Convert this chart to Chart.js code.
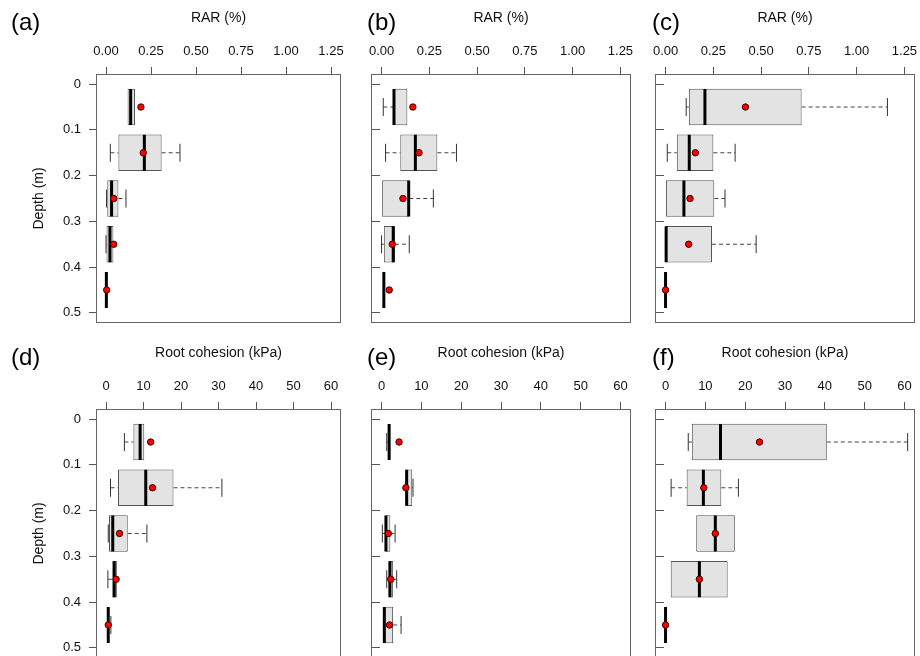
<!DOCTYPE html>
<html>
<head>
<meta charset="utf-8">
<script src="https://cdn.jsdelivr.net/npm/chart.js@4.4.1/dist/chart.umd.min.js"></script>
<style>
html, body { margin: 0; padding: 0; background: #fff; width: 920px; height: 656px; overflow: hidden; position: relative; }
canvas { position: absolute; }
</style>
</head>
<body>
<canvas id="pa" width="345" height="330" style="left:0px;top:0px"></canvas>
<canvas id="pb" width="290" height="330" style="left:345px;top:0px"></canvas>
<canvas id="pc" width="285" height="330" style="left:635px;top:0px"></canvas>
<canvas id="pd" width="345" height="330" style="left:0px;top:335px"></canvas>
<canvas id="pe" width="290" height="330" style="left:345px;top:335px"></canvas>
<canvas id="pf" width="285" height="330" style="left:635px;top:335px"></canvas>
<script>
// depth classes (box centres) and tick labels
const depths = [0.05, 0.15, 0.25, 0.35, 0.45];
const depthTicks = [0, 0.1, 0.2, 0.3, 0.4, 0.5];
const rarTicks = [0, 0.25, 0.5, 0.75, 1, 1.25];
const cohTicks = [0, 10, 20, 30, 40, 50, 60];

// (a) RAR
const aMin  = [0.120, 0.024, 0.003, 0.000, 0.002];
const aQ1   = [0.120, 0.069, 0.007, 0.003, 0.002];
const aMed  = [0.137, 0.213, 0.031, 0.022, 0.002];
const aQ3   = [0.161, 0.309, 0.069, 0.041, 0.002];
const aMax  = [0.161, 0.411, 0.111, 0.041, 0.002];
const aMean = [0.194, 0.207, 0.043, 0.043, 0.004];

// (b) RAR
const bMin  = [0.009, 0.021, 0.003, 0.000, 0.012];
const bQ1   = [0.061, 0.098, 0.003, 0.012, 0.012];
const bMed  = [0.065, 0.177, 0.142, 0.061, 0.012];
const bQ3   = [0.135, 0.292, 0.145, 0.070, 0.012];
const bMax  = [0.135, 0.392, 0.271, 0.145, 0.012];
const bMean = [0.164, 0.196, 0.112, 0.056, 0.040];

// (c) RAR
const cMin  = [0.108, 0.009, 0.000, 0.003, 0.000];
const cQ1   = [0.122, 0.059, 0.000, 0.003, 0.000];
const cMed  = [0.206, 0.124, 0.096, 0.003, 0.000];
const cQ3   = [0.712, 0.250, 0.255, 0.243, 0.000];
const cMax  = [1.161, 0.364, 0.311, 0.474, 0.000];
const cMean = [0.418, 0.156, 0.128, 0.121, 0.000];

// (d) root cohesion
const dMin  = [4.9, 1.2, 0.6, 0.5, 0.6];
const dQ1   = [7.3, 3.2, 0.8, 1.7, 0.55];
const dMed  = [9.1, 10.6, 1.8, 2.2, 0.6];
const dQ3   = [10.2, 18.0, 5.8, 2.9, 0.65];
const dMax  = [10.2, 30.9, 10.9, 2.9, 1.3];
const dMean = [11.9, 12.4, 3.6, 2.7, 0.6];

// (e) root cohesion
const eMin  = [1.3, 6.1, 0.2, 1.3, 0.6];
const eQ1   = [1.8, 6.1, 1.0, 1.8, 0.6];
const eMed  = [1.9, 6.3, 1.1, 2.1, 0.7];
const eQ3   = [2.2, 7.7, 2.2, 2.9, 2.9];
const eMax  = [2.2, 7.9, 3.4, 3.8, 4.9];
const eMean = [4.4, 6.1, 1.7, 2.3, 2.0];

// (f) root cohesion
const fMin  = [5.7, 1.4, 7.7, 1.3, 0];
const fQ1   = [6.6, 5.3, 7.7, 1.3, 0];
const fMed  = [13.8, 9.5, 12.5, 8.5, 0];
const fQ3   = [40.5, 14.0, 17.4, 15.6, 0];
const fMax  = [60.8, 18.3, 17.4, 15.6, 0];
const fMean = [23.6, 9.6, 12.5, 8.5, 0];

const FONT = '"Liberation Sans", Arial, Helvetica, sans-serif';

//panel letter like (a), (b)...
const panelLetter = {
  id: 'panelLetter',
  afterDraw(chart, args, o) {
    const ctx = chart.ctx;
    ctx.save();
    ctx.font = '24px ' + FONT;
    ctx.fillStyle = '#000';
    ctx.textBaseline = 'middle';
    ctx.fillText(o.text, o.x, o.y);
    ctx.restore();
  }
};

//box round the plot region
const frame = {
  id: 'frame',
  afterDraw(chart) {
    const a = chart.chartArea;
    const ctx = chart.ctx;
    ctx.save();
    ctx.strokeStyle = '#666';
    ctx.lineWidth = 1;
    ctx.strokeRect(Math.round(a.left) - 0.5, Math.round(a.top) - 0.5,
      Math.round(a.right - a.left) + 1, Math.round(a.bottom - a.top) + 1);
    ctx.restore();
  }
};

// no automatic label padding, the layout is fixed by hand
function noPad(s) {
  s.paddingLeft = 0;
  s.paddingRight = 0;
  s.paddingTop = 0;
  s.paddingBottom = 0;
}

function makePanel(id, p) {
  let whiskers = [];
  let caps = [];
  depths.forEach((d, i) => {
    if (p.min[i] < p.q1[i]) {
      whiskers.push({x: p.min[i], y: d}, {x: p.q1[i], y: d}, {x: null, y: null});
      caps.push({x: p.min[i], y: d});
    }
    if (p.max[i] > p.q3[i]) {
      whiskers.push({x: p.q3[i], y: d}, {x: p.max[i], y: d}, {x: null, y: null});
      caps.push({x: p.max[i], y: d});
    }
  });

  const data = {
    datasets: [
      {
        type: 'scatter',
        data: depths.map((d, i) => ({x: p.mean[i], y: d})),
        pointRadius: 3.2,
        pointBackgroundColor: '#ff0000',
        pointBorderColor: '#3a0000',
        pointBorderWidth: 1,
        order: 0
      },
      {
        type: 'scatter',
        data: depths.map((d, i) => ({x: p.med[i], y: d})),
        pointStyle: 'line',
        rotation: 90,
        pointRadius: 18,
        pointBorderColor: '#000',
        pointBorderWidth: 3,
        order: 1
      },
      {
        type: 'scatter',
        data: caps,
        pointStyle: 'line',
        rotation: 90,
        pointRadius: 9,
        pointBorderColor: '#333',
        pointBorderWidth: 1,
        order: 2
      },
      {
        type: 'bar',
        indexAxis: 'y',
        data: depths.map((d, i) => ({x: [p.q1[i], p.q3[i]], y: d})),
        backgroundColor: '#e3e3e3',
        borderColor: '#555',
        borderWidth: 1,
        borderSkipped: false,
        barPercentage: 0.8,
        categoryPercentage: 1,
        order: 3
      },
      {
        type: 'line',
        data: whiskers,
        borderColor: '#444',
        borderWidth: 1,
        borderDash: [4, 3],
        pointRadius: 0,
        spanGaps: false,
        order: 4
      }
    ]
  };

  const config = {
    type: 'bar',
    data: data,
    options: {
      responsive: false,
      animation: false,
      events: [],
      layout: { autoPadding: false, padding: { left: 0, top: 0, right: p.padRight, bottom: 8 } },
      plugins: {
        legend: { display: false },
        tooltip: { enabled: false },
        panelLetter: { text: p.letter, x: p.letterX, y: 23 }
      },
      scales: {
        x: {
          type: 'linear',
          position: 'top',
          offset: false,
          min: p.xMin,
          max: p.xMax,
          afterBuildTicks: s => { s.ticks = p.xTicks.map(v => ({value: v})); },
          afterFit: s => { s.height = 75; noPad(s); },
          grid: { offset: false, drawOnChartArea: false, drawTicks: true, tickLength: 8, color: '#555' },
          border: { display: false },
          ticks: { padding: 8, maxRotation: 0, autoSkip: false, color: '#111',
            font: { family: FONT, size: 13 }, callback: p.xFmt },
          title: { display: true, text: p.xTitle, color: '#111',
            font: { family: FONT, size: 14 }, padding: { top: 10, bottom: 0 } }
        },
        y: {
          type: 'linear',
          reverse: true,
          offset: false,
          min: -0.02,
          max: 0.52,
          afterBuildTicks: s => { s.ticks = depthTicks.map(v => ({value: v})); },
          afterFit: s => { s.width = p.yWidth; noPad(s); },
          grid: { offset: false, drawOnChartArea: false, drawTicks: true, tickLength: p.yLabels ? 8 : -8, color: '#555' },
          border: { display: false },
          ticks: { display: p.yLabels, padding: 8, autoSkip: false, color: '#111',
            font: { family: FONT, size: 13 },
            callback: v => v === 0 ? '0' : v.toFixed(1) },
          title: { display: p.yLabels, text: 'Depth (m)', color: '#111',
            font: { family: FONT, size: 14 }, padding: { top: 30.6, bottom: 0 } }
        }
      }
    },
    plugins: [frame, panelLetter]
  };

  return new Chart(document.getElementById(id), config);
}

const rarFmt = v => v.toFixed(2);
const cohFmt = v => String(v);

makePanel('pa', { letter: '(a)', letterX: 11, min: aMin, q1: aQ1, med: aMed, q3: aQ3, max: aMax, mean: aMean,
  xMin: -0.05, xMax: 1.3, xTicks: rarTicks, xFmt: rarFmt, xTitle: 'RAR (%)', yLabels: true, yWidth: 97, padRight: 5 });
makePanel('pb', { letter: '(b)', letterX: 22, min: bMin, q1: bQ1, med: bMed, q3: bQ3, max: bMax, mean: bMean,
  xMin: -0.05, xMax: 1.3, xTicks: rarTicks, xFmt: rarFmt, xTitle: 'RAR (%)', yLabels: false, yWidth: 27, padRight: 5 });
makePanel('pc', { letter: '(c)', letterX: 17, min: cMin, q1: cQ1, med: cMed, q3: cQ3, max: cMax, mean: cMean,
  xMin: -0.05, xMax: 1.3, xTicks: rarTicks, xFmt: rarFmt, xTitle: 'RAR (%)', yLabels: false, yWidth: 21, padRight: 6 });
makePanel('pd', { letter: '(d)', letterX: 11, min: dMin, q1: dQ1, med: dMed, q3: dQ3, max: dMax, mean: dMean,
  xMin: -2.4, xMax: 62.4, xTicks: cohTicks, xFmt: cohFmt, xTitle: 'Root cohesion (kPa)', yLabels: true, yWidth: 97, padRight: 5 });
makePanel('pe', { letter: '(e)', letterX: 22, min: eMin, q1: eQ1, med: eMed, q3: eQ3, max: eMax, mean: eMean,
  xMin: -2.4, xMax: 62.4, xTicks: cohTicks, xFmt: cohFmt, xTitle: 'Root cohesion (kPa)', yLabels: false, yWidth: 27, padRight: 5 });
makePanel('pf', { letter: '(f)', letterX: 17, min: fMin, q1: fQ1, med: fMed, q3: fQ3, max: fMax, mean: fMean,
  xMin: -2.4, xMax: 62.4, xTicks: cohTicks, xFmt: cohFmt, xTitle: 'Root cohesion (kPa)', yLabels: false, yWidth: 21, padRight: 6 });
</script>
</body>
</html>
